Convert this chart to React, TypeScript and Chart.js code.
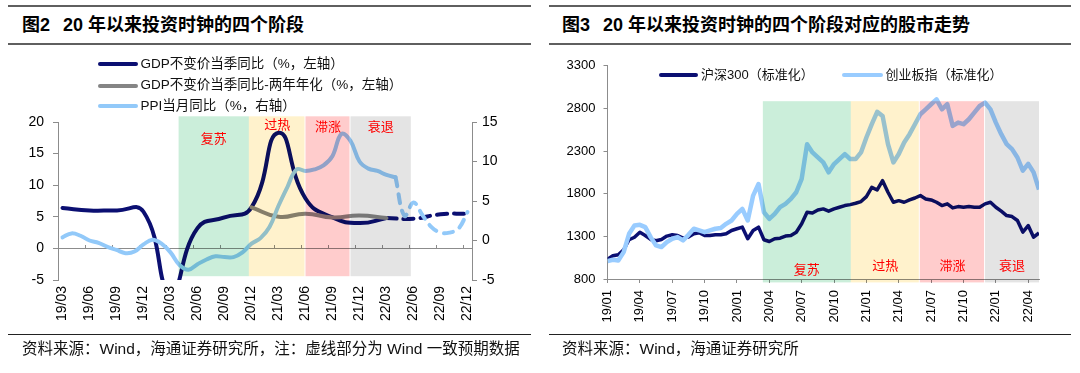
import React, { useEffect, useRef } from 'react';
import { Chart, registerables } from 'chart.js';

Chart.register(...registerables);

const FONT = '"Liberation Sans", Arial, "Noto Sans CJK SC", sans-serif';
const CJK = '"Noto Sans CJK SC", sans-serif';

// ---------------- Figure 2: investment clock ----------------
const months = [
  '19/03', '19/04', '19/05', '19/06', '19/07', '19/08', '19/09', '19/10', '19/11', '19/12',
  '20/01', '20/02', '20/03', '20/04', '20/05', '20/06', '20/07', '20/08', '20/09', '20/10', '20/11', '20/12',
  '21/01', '21/02', '21/03', '21/04', '21/05', '21/06', '21/07', '21/08', '21/09', '21/10', '21/11', '21/12',
  '22/01', '22/02', '22/03', '22/04', '22/05', '22/06', '22/07', '22/08', '22/09', '22/10', '22/11', '22/12',
];

const gdpQuarters = ['19/03', '19/06', '19/09', '19/12', '20/03', '20/06', '20/09', '20/12', '21/03', '21/06', '21/09', '21/12', '22/03'];
const gdpYoY = [6.4, 6.0, 6.0, 5.8, -6.8, 3.2, 4.9, 6.5, 18.3, 7.9, 4.9, 4.0, 4.8];

const gdpForecastQuarters = ['22/03', '22/06', '22/09', '22/12'];
const gdpForecast = [4.8, 4.7, 5.4, 5.5];

const gdp2yQuarters = ['20/12', '21/03', '21/06', '21/09', '21/12', '22/03'];
const gdp2y = [6.5, 5.0, 5.5, 4.9, 5.2, 4.8];

const ppiStart = '19/03';
const ppiActual = [
  0.4, 0.9, 0.6, 0.0, -0.3, -0.8, -1.2, -1.6, -1.4, -0.5,
  0.1, -0.4, -1.5, -3.1, -3.7, -3.0, -2.4, -2.0, -2.1, -2.1, -1.5, -0.4,
  0.3, 1.7, 4.4, 6.8, 9.0, 8.8, 9.0, 9.5, 10.7, 13.5, 12.6, 10.0,
  9.1, 8.8, 8.3, 8.0,
];
const ppiForecastStart = '22/04';
const ppiForecast = [8.0, 3.1, 4.8, 3.2, 1.7, 1.0, 1.0, 1.5, 3.6];

// ---------------- Figure 3: stock indices (normalised) ----------------
const SAMPLE_STEP_MONTHS = 0.5; // one sample every half month, from 2019-01
const hs300 = [
  1030, 1073, 1085, 1143, 1260, 1290, 1349, 1310, 1264, 1248,
  1264, 1303, 1318, 1310, 1279, 1291, 1330, 1342, 1310, 1310,
  1318, 1318, 1330, 1369, 1389, 1408, 1272, 1369, 1408, 1260,
  1240, 1272, 1279, 1303, 1310, 1349, 1447, 1583, 1575, 1610,
  1622, 1595, 1622, 1641, 1661, 1672, 1688, 1708, 1766, 1875,
  1844, 1953, 1817, 1700, 1719, 1700, 1727, 1750, 1778, 1739,
  1727, 1700, 1661, 1681, 1634, 1649, 1641, 1649, 1641, 1641,
  1681, 1700, 1641, 1595, 1544, 1532, 1486, 1350, 1427, 1290,
  1340,
];
const cyb = [
  1010, 1026, 1018, 1115, 1330, 1427, 1435, 1408, 1291, 1194,
  1174, 1232, 1272, 1291, 1252, 1318, 1389, 1369, 1349, 1369,
  1389, 1397, 1447, 1486, 1564, 1622, 1486, 1778, 1914, 1583,
  1505, 1564, 1642, 1681, 1739, 1817, 1973, 2380, 2284, 2225,
  2167, 2051, 2148, 2206, 2265, 2206, 2206, 2284, 2459, 2615,
  2760, 2712, 2381, 2167, 2265, 2401, 2498, 2615, 2732, 2790,
  2849, 2907, 2790, 2850, 2595, 2634, 2615, 2673, 2751, 2829,
  2868, 2790, 2634, 2498, 2381, 2323, 2225, 2070, 2150, 2050,
  1850,
];
const rightTickMonths = [0, 3, 6, 9, 12, 15, 18, 21, 24, 27, 30, 33, 36, 39];
const rightTickLabels = ['19/01', '19/04', '19/07', '19/10', '20/01', '20/04', '20/07', '20/10', '21/01', '21/04', '21/07', '21/10', '22/01', '22/04'];

// ---------------- phases ----------------
const phaseNames = ['复苏', '过热', '滞涨', '衰退'];
const leftPhaseStart = [12.9, 20.7, 27.0, 32.0]; // category index units
const leftPhaseEnd = [20.7, 27.0, 32.0, 38.7];
const rightPhaseStart = [14.4, 22.55, 28.95, 35.0]; // months since 2019-01
const rightPhaseEnd = [22.55, 28.95, 35.0, 40.0];

const PHASE_FILL = ['#CBEEDA', '#FFF2CC', '#FFCCCC', '#E4E4E4'];
const AXIS = '#8c8c8c';
const NAVY = '#0B0F72';
const GRAY = '#858585';
const PPI_BLUE = '#92C9F9';
const CYB_BLUE = '#99CCFF';

const leftPhaseCfg = { xId: 'x', yId: 'y', top: 20.9, bottom: -4.4, labelY: [17.4, 19.6, 19.35, 19.35], starts: leftPhaseStart, ends: leftPhaseEnd };
const rightPhaseCfg = { xId: 'x', yId: 'y', top: 2885, bottom: 760, labelY: [921, 960, 960, 960], starts: rightPhaseStart, ends: rightPhaseEnd };

function phasePlugin(cfg: any) {
  return {
    id: 'phases',
    afterDatasetsDraw(chart: any) {
      const { ctx } = chart;
      const xs = chart.scales[cfg.xId];
      const ys = chart.scales[cfg.yId];
      const yTop = ys.getPixelForValue(cfg.top);
      const yBot = ys.getPixelForValue(cfg.bottom);
      ctx.save();
      ctx.globalCompositeOperation = 'multiply';
      cfg.starts.forEach((s: number, k: number) => {
        const x0 = xs.getPixelForValue(s);
        const x1 = xs.getPixelForValue(cfg.ends[k]);
        const gap = k === 1 || k === 2 ? 1 : 0;
        ctx.fillStyle = PHASE_FILL[k];
        ctx.fillRect(x0, yTop, x1 - x0 - gap, yBot - yTop);
      });
      ctx.restore();
      ctx.save();
      ctx.fillStyle = '#FF0000';
      ctx.font = `13px ${CJK}`;
      ctx.textAlign = 'center';
      ctx.textBaseline = 'middle';
      cfg.starts.forEach((s: number, k: number) => {
        const xc = (xs.getPixelForValue(s) + xs.getPixelForValue(cfg.ends[k])) / 2;
        ctx.fillText(phaseNames[k], xc, ys.getPixelForValue(cfg.labelY[k]));
      });
      ctx.restore();
    },
  };
}

const byLabel = (labels: string[], values: number[]) =>
  months.map((m) => {
    const k = labels.indexOf(m);
    return k >= 0 ? values[k] : null;
  });
const fromStart = (start: string, values: number[]) => {
  const s = months.indexOf(start);
  return months.map((_, i) => (i >= s && i - s < values.length ? values[i - s] : null));
};

function LeftChart() {
  const ref = useRef<HTMLCanvasElement>(null);
  useEffect(() => {
    const chart = new Chart(ref.current as HTMLCanvasElement, {
      type: 'line',
      data: {
        labels: months,
        datasets: [
          { label: 'PPI', data: fromStart(ppiStart, ppiActual), yAxisID: 'y2', borderColor: PPI_BLUE, borderWidth: 4, tension: 0.4, pointRadius: 0, order: 1, borderJoinStyle: 'round', borderCapStyle: 'round' },
          { label: 'PPI预期', data: fromStart(ppiForecastStart, ppiForecast), yAxisID: 'y2', borderColor: PPI_BLUE, borderWidth: 4, borderDash: [9, 8], tension: 0.4, pointRadius: 0, order: 1, borderCapStyle: 'round' },
          { label: 'GDP两年', data: byLabel(gdp2yQuarters, gdp2y), yAxisID: 'y', borderColor: GRAY, borderWidth: 4, tension: 0.5, spanGaps: true, pointRadius: 0, order: 2, borderCapStyle: 'round' },
          { label: 'GDP', data: byLabel(gdpQuarters, gdpYoY), yAxisID: 'y', borderColor: NAVY, borderWidth: 4, tension: 0.5, spanGaps: true, pointRadius: 0, order: 3, borderCapStyle: 'round' },
          { label: 'GDP预期', data: byLabel(gdpForecastQuarters, gdpForecast), yAxisID: 'y', borderColor: NAVY, borderWidth: 4, borderDash: [10, 7], tension: 0.5, spanGaps: true, pointRadius: 0, order: 3, borderCapStyle: 'round' },
        ] as any,
      },
      options: {
        responsive: false,
        animation: false,
        devicePixelRatio: 1,
        events: [],
        layout: { padding: { top: 72, left: 0, right: 0, bottom: 0 } },
        elements: { line: { capBezierPoints: false } as any },
        plugins: { legend: { display: false }, tooltip: { enabled: false } },
        scales: {
          x: {
            type: 'category',
            offset: true,
            position: 'bottom',
            grid: { display: false, drawTicks: false },
            border: { display: false },
            ticks: {
              autoSkip: false,
              minRotation: 90,
              maxRotation: 90,
              padding: 6,
              color: '#000',
              font: { family: FONT, size: 14 },
              callback: function (this: any, v: any, i: number) {
                return i % 3 === 0 ? this.getLabelForValue(v) : '';
              },
            },
            afterFit: (s: any) => { s.height = 55; },
          },
          xz: {
            type: 'category',
            axis: 'x',
            offset: true,
            position: { y: 0 },
            ticks: { display: false },
            grid: {
              drawOnChartArea: false,
              drawTicks: true,
              tickLength: -4,
              offset: true,
              color: (c: any) => (c.index % 3 === 0 ? AXIS : 'rgba(0,0,0,0)'),
            },
            border: { display: true, color: AXIS },
          },
          y: {
            type: 'linear',
            position: 'left',
            min: -5,
            max: 20,
            ticks: { stepSize: 5, padding: 9, color: '#000', font: { family: FONT, size: 14 }, callback: (v: any) => String(v) },
            grid: { drawOnChartArea: false, tickLength: 5, color: AXIS },
            border: { color: AXIS },
            afterFit: (s: any) => { s.width = 58; },
          },
          y2: {
            type: 'linear',
            position: 'right',
            min: -5,
            max: 15,
            ticks: { stepSize: 5, padding: 5, color: '#000', font: { family: FONT, size: 14 }, callback: (v: any) => String(v) },
            grid: { drawOnChartArea: false, tickLength: 5, color: AXIS },
            border: { color: AXIS },
            afterFit: (s: any) => { s.width = 68; },
          },
        } as any,
      },
      plugins: [phasePlugin(leftPhaseCfg)],
    });
    return () => chart.destroy();
  }, []);
  return <canvas ref={ref} width={540} height={285} style={{ position: 'absolute', left: 0, top: 50, width: 540, height: 285 }} />;
}

function RightChart() {
  const ref = useRef<HTMLCanvasElement>(null);
  useEffect(() => {
    const chart = new Chart(ref.current as HTMLCanvasElement, {
      type: 'line',
      data: {
        datasets: [
          { label: '创业板指（标准化）', data: cyb.map((v, i) => ({ x: i * SAMPLE_STEP_MONTHS, y: v })), borderColor: CYB_BLUE, borderWidth: 4.5, tension: 0, pointRadius: 0, order: 1, borderJoinStyle: 'round' },
          { label: '沪深300（标准化）', data: hs300.map((v, i) => ({ x: i * SAMPLE_STEP_MONTHS, y: v })), borderColor: NAVY, borderWidth: 3.5, tension: 0, pointRadius: 0, order: 2, borderJoinStyle: 'round' },
        ] as any,
      },
      options: {
        responsive: false,
        animation: false,
        devicePixelRatio: 1,
        events: [],
        layout: { padding: { top: 14, left: 0, right: 41, bottom: 0 } },
        plugins: { legend: { display: false }, tooltip: { enabled: false } },
        scales: {
          x: {
            type: 'linear',
            min: 0,
            max: 40,
            afterBuildTicks: (s: any) => { s.ticks = rightTickMonths.map((v) => ({ value: v })); },
            ticks: {
              autoSkip: false,
              minRotation: 90,
              maxRotation: 90,
              padding: 7,
              color: '#000',
              font: { family: FONT, size: 13 },
              callback: (v: any) => rightTickLabels[rightTickMonths.indexOf(Number(v))] ?? '',
            },
            grid: { drawOnChartArea: false, tickLength: 4, color: AXIS },
            border: { color: AXIS },
            afterFit: (s: any) => { s.height = 56; },
          },
          y: {
            type: 'linear',
            min: 800,
            max: 3300,
            ticks: { stepSize: 500, padding: 8, color: '#000', font: { family: FONT, size: 13 }, callback: (v: any) => String(v) },
            grid: { drawOnChartArea: false, tickLength: 4, color: AXIS },
            border: { color: AXIS },
            afterFit: (s: any) => { s.width = 67.5; },
          },
        } as any,
      },
      plugins: [phasePlugin(rightPhaseCfg)],
    });
    return () => chart.destroy();
  }, []);
  return <canvas ref={ref} width={540} height={285} style={{ position: 'absolute', left: 540, top: 50, width: 540, height: 285 }} />;
}

const Swatch = ({ color, left, top, width }: any) => (
  <div style={{ position: 'absolute', left, top: top - 2, width, height: 4, borderRadius: 2, background: color }} />
);
const Txt = ({ left, top, size, children, bold, color }: any) => (
  <div style={{ position: 'absolute', left, top: top - size * 0.7, height: size * 1.4, lineHeight: `${size * 1.4}px`, fontSize: size, fontWeight: bold ? 'bold' : 'normal', color: color || '#111', whiteSpace: 'nowrap', fontFamily: FONT }}>{children}</div>
);
const Rule = ({ left, top, width, h, color }: any) => (
  <div style={{ position: 'absolute', left, top, width, height: h, background: color }} />
);

export default function App() {
  return (
    <div style={{ position: 'absolute', left: 0, top: 0, width: 1080, height: 373, background: '#fff', overflow: 'hidden', fontFamily: FONT }}>
      {/* Left header */}
      <Rule left={8} top={5} width={523} h={2} color="#5f5f5f" />
      <Txt left={22} top={26} size={18} bold color="#000">图2<span style={{ marginLeft: 13 }}>20 年以来投资时钟的四个阶段</span></Txt>
      <Rule left={8} top={43} width={523} h={2} color="#5f5f5f" />
      {/* Right header */}
      <Rule left={549} top={5} width={522} h={2} color="#5f5f5f" />
      <Txt left={562} top={26} size={18} bold color="#000">图3<span style={{ marginLeft: 13 }}>20 年以来投资时钟的四个阶段对应的股市走势</span></Txt>
      <Rule left={549} top={43} width={522} h={2} color="#5f5f5f" />

      <LeftChart />
      <RightChart />

      {/* Left legend */}
      <Swatch color={NAVY} left={98} top={64.3} width={39.5} />
      <Txt left={140.5} top={64.3} size={13.5}>GDP不变价当季同比（%，左轴）</Txt>
      <Swatch color={GRAY} left={98} top={85.7} width={39.5} />
      <Txt left={140.5} top={85.7} size={13.5}>GDP不变价当季同比-两年年化（%，左轴）</Txt>
      <Swatch color={PPI_BLUE} left={98} top={106} width={39.5} />
      <Txt left={140.5} top={106} size={13.5}>PPI当月同比（%，右轴）</Txt>

      {/* Right legend */}
      <Swatch color={NAVY} left={658.6} top={75} width={39.5} />
      <Txt left={701} top={75} size={13}>沪深300（标准化）</Txt>
      <Swatch color={CYB_BLUE} left={842.4} top={75} width={41} />
      <Txt left={885.5} top={75} size={13}>创业板指（标准化）</Txt>

      {/* Footers */}
      <Rule left={8} top={333.5} width={523} h={1.5} color="#222" />
      <Txt left={22} top={349.3} size={15.5}>资料来源：Wind，海通证券研究所，注：虚线部分为 Wind 一致预期数据</Txt>
      <Rule left={549} top={333.5} width={522} h={1.5} color="#222" />
      <Txt left={562} top={349.3} size={15.5}>资料来源：Wind，海通证券研究所</Txt>
    </div>
  );
}
